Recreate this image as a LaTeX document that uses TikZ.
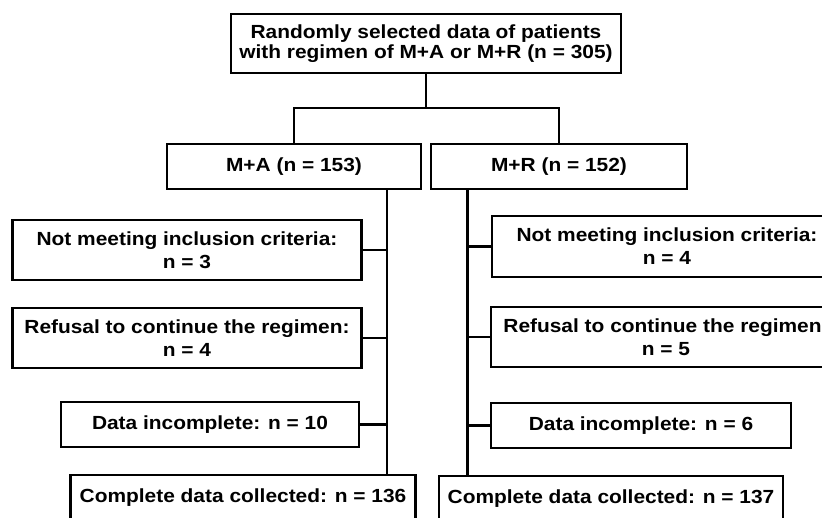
\documentclass[tikz,border=0pt]{standalone}
\usepackage{fontspec}
\setmainfont[FakeStretch=1.1]{Liberation Sans}
\usetikzlibrary{positioning}

\tikzset{
  box/.style={draw, line width=2.3pt, align=center, inner sep=0pt,
    font=\bfseries\fontsize{19pt}{23pt}\selectfont},
  link/.style={line width=2.3pt}
}

\begin{document}
\begin{tikzpicture}[on grid]
    \useasboundingbox (0pt,0pt) rectangle (822pt,-517pt);
    \clip (0pt,0pt) rectangle (822pt,-517pt);

    \node [box, minimum width=390pt, minimum height=59pt,
      font=\bfseries\fontsize{19pt}{20pt}\selectfont] (top) at (426pt,-43.5pt)
      {Randomly selected data of patients\\with regimen of M+A or M+R (n = 305)};
    \node [box, minimum width=254pt, minimum height=45pt, below left=123pt and 132pt of top] (ma) {M+A (n = 153)};
    \node [box, minimum width=256pt, minimum height=45pt, below right=123pt and 133pt of top] (mr) {M+R (n = 152)};

    % M+A side
    \node [box, minimum width=349pt, minimum height=60pt, below left=83.5pt and 107pt of ma] (exclA) {Not meeting inclusion criteria:\\n = 3};
    \node [box, minimum width=349pt, minimum height=60pt, below=88pt of exclA] (refusA) {Refusal to continue the regimen:\\n = 4};
    \node [box, minimum width=298pt, minimum height=45pt, below right=86.5pt and 23pt of refusA] (incA) {Data incomplete: n = 10};
    \node [box, minimum width=345pt, minimum height=45pt, below right=73pt and 33pt of incA] (doneA) {Complete data collected: n = 136};

    % M+R side
    \node [box, minimum width=350pt, minimum height=61pt, below right=80pt and 108pt of mr] (exclR) {Not meeting inclusion criteria:\\n = 4};
    \node [box, minimum width=350pt, minimum height=60pt, below left=90.5pt and 1pt of exclR] (refusR) {Refusal to continue the regimen:\\n = 5};
    \node [box, minimum width=300pt, minimum height=45pt, below left=88.5pt and 25pt of refusR] (incR) {Data incomplete: n = 6};
    \node [box, minimum width=344pt, minimum height=45pt, below left=73pt and 30pt of incR] (doneR) {Complete data collected: n = 137};

    \coordinate (split) at (426pt,-108pt);
    \coordinate (trunkA) at (387pt,0pt);
    \coordinate (trunkR) at (467.5pt,0pt);

    \draw [link] (top.south) -- (split);
    \draw [link] (ma.north) |- (split) -| (mr.north);
    \draw [link] (trunkA |- ma.south) -- (trunkA |- doneA.north);
    \draw [link] (trunkR |- mr.south) -- (trunkR |- doneR.north);
    \draw [link] (exclA.east) -- (exclA.east -| trunkA);
    \draw [link] (refusA.east) -- (refusA.east -| trunkA);
    \draw [link] (incA.east) -- (incA.east -| trunkA);
    \draw [link] (exclR.west) -- (exclR.west -| trunkR);
    \draw [link] (refusR.west) -- (refusR.west -| trunkR);
    \draw [link] (incR.west) -- (incR.west -| trunkR);
\end{tikzpicture}
\end{document}
